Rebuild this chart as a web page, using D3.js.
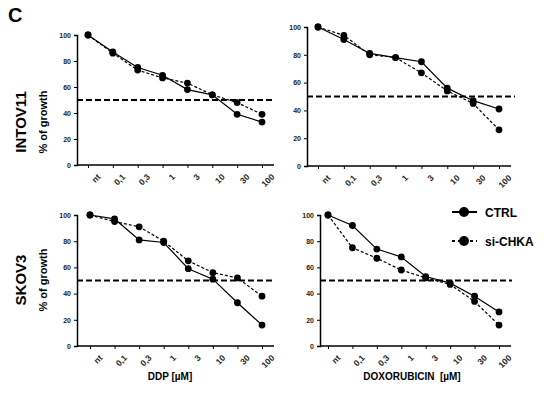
<!DOCTYPE html>
<html><head><meta charset="utf-8">
<script src="https://cdn.jsdelivr.net/npm/d3@7"></script>
<style>body{margin:0;background:#fff}text{font-family:"Liberation Sans",Arial,sans-serif;font-weight:bold}</style>
</head><body><div id="chart"></div>
<script>
var categories = ["nt", "0,1", "0,3", "1", "3", "10", "30", "100"];
var yTicks = [0, 20, 40, 60, 80, 100];
var intovDdpCtrl = [100, 87, 75, 69, 58, 54, 39, 33];
var intovDdpSi   = [100, 86, 73, 67, 63, 54, 48, 39];
var intovDoxCtrl = [100, 91, 81, 78, 75, 56, 47, 41];
var intovDoxSi   = [100, 94, 80, 78, 67, 54, 45, 26];
var skovDdpCtrl  = [100, 97, 81, 79, 59, 51, 33, 16];
var skovDdpSi    = [100, 95, 91, 80, 65, 56, 52, 38];
var skovDoxCtrl  = [100, 92, 74, 68, 53, 48, 38, 26];
var skovDoxSi    = [100, 75, 67, 58, 52, 47, 34, 16];

var svg = d3.select("#chart").append("svg").attr("width", 550).attr("height", 410);

var panels = [
  {ax: 77, x0: 88, x1: 262, top: 35, bottom: 165, end: 275, ctrl: intovDdpCtrl, si: intovDdpSi},
  {ax: 307, x0: 318, x1: 499, top: 27, bottom: 166, end: 515, ctrl: intovDoxCtrl, si: intovDoxSi},
  {ax: 77, x0: 90, x1: 262, top: 215, bottom: 346, end: 275, ctrl: skovDdpCtrl, si: skovDdpSi},
  {ax: 320, x0: 328, x1: 499, top: 215, bottom: 346, end: 512, ctrl: skovDoxCtrl, si: skovDoxSi}
];

panels.forEach(function(p) {
  var x = d3.scalePoint().domain(categories).range([p.x0, p.x1]);
  var y = d3.scaleLinear().domain([0, 100]).range([p.bottom, p.top]);
  var g = svg.append("g");

  g.append("g").attr("transform", `translate(${p.ax},0)`)
    .call(d3.axisLeft(y).tickValues(yTicks).tickSize(3))
    .call(a => a.selectAll("text").attr("font-size", 7).attr("fill", "#222"));
  var xa = g.append("g").attr("transform", `translate(0,${p.bottom})`)
    .call(d3.axisBottom(x).tickSize(3).tickSizeOuter(0));
  xa.select(".domain").attr("d", `M${p.ax},0H${p.x1 + 12}`);
  xa.selectAll("text").attr("font-size", 8.5).attr("text-anchor", "end")
    .attr("transform", "translate(4,4) rotate(-45)").attr("fill", "#222");
  g.selectAll(".domain").attr("stroke-width", 1.5);

  // 50% reference line
  g.append("line").attr("x1", p.ax).attr("x2", p.end)
    .attr("y1", y(50)).attr("y2", y(50))
    .attr("stroke", "#000").attr("stroke-width", 2).attr("stroke-dasharray", "6,3");

  var line = d3.line().x((d, i) => x(categories[i])).y(d => y(d));
  [[p.si, "3,2"], [p.ctrl, null]].forEach(function(s) {
    g.append("path").attr("d", line(s[0])).attr("fill", "none")
      .attr("stroke", "#000").attr("stroke-width", 1.2).attr("stroke-dasharray", s[1]);
    g.selectAll(null).data(s[0]).enter().append("circle")
      .attr("cx", (d, i) => x(categories[i])).attr("cy", d => y(d)).attr("r", 3.4);
  });
});

svg.append("text").attr("x", 8).attr("y", 22).attr("font-size", 20).text("C");
[["INTOV11", 122], ["SKOV3", 280]].forEach(function(r) {
  svg.append("text").attr("transform", `translate(26,${r[1]}) rotate(-90)`)
    .attr("text-anchor", "middle").attr("font-size", 15).text(r[0]);
  svg.append("text").attr("transform", `translate(47,${r[1]}) rotate(-90)`)
    .attr("text-anchor", "middle").attr("font-size", 11).text("% of growth");
});
svg.append("text").attr("x", 170).attr("y", 380).attr("text-anchor", "middle").attr("font-size", 10).text("DDP [µM]");
svg.append("text").attr("x", 412).attr("y", 380).attr("text-anchor", "middle").attr("font-size", 10).attr("xml:space", "preserve").text("DOXORUBICIN  [µM]");

// legend
[["CTRL", 212, null], ["si-CHKA", 241, "3,3"]].forEach(function(l) {
  svg.append("line").attr("x1", 452).attr("x2", 477).attr("y1", l[1]).attr("y2", l[1])
    .attr("stroke", "#000").attr("stroke-width", 2).attr("stroke-dasharray", l[2]);
  svg.append("circle").attr("cx", 464).attr("cy", l[1]).attr("r", 5);
  svg.append("text").attr("x", 485).attr("y", l[1] + 5).attr("font-size", 12).text(l[0]);
});
</script></body></html>
